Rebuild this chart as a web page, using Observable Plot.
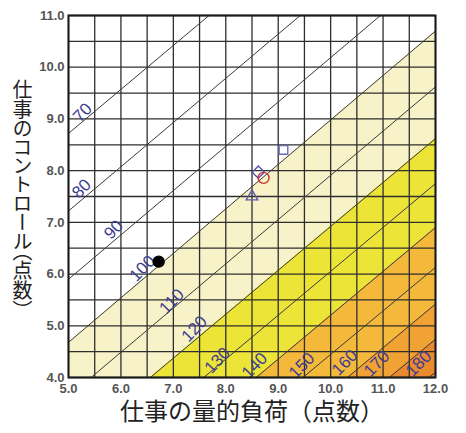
<!DOCTYPE html>
<html><head><meta charset="utf-8">
<script src="https://cdn.jsdelivr.net/npm/d3@7"></script>
<script src="https://cdn.jsdelivr.net/npm/@observablehq/plot@0.6"></script>
<style>
html,body{margin:0;padding:0;background:#fff;}
#chart svg{display:block;}
</style>
</head><body><div id="chart"></div>
<script>
// contour levels (health risk) and their line end points
const levels = [70, 80, 90, 100, 110, 120, 130, 140, 150, 160, 170, 180];
const lineX1 = [5, 5, 5, 5, 5.43, 6.56, 7.58, 8.58, 9.47, 10.32, 11.12, 11.87];
const lineY1 = [8.72, 7.22, 5.9, 4.68, 4, 4, 4, 4, 4, 4, 4, 4];
const lineX2 = [7.68, 9.42, 10.95, 12, 12, 12, 12, 12, 12, 12, 12, 12];
const lineY2 = [11, 11, 11, 10.7, 9.62, 8.62, 7.75, 6.9, 6.13, 5.42, 4.74, 4.1];
// label positions of the contour values
const labelX = [5.27, 5.25, 5.86, 6.41, 6.97, 7.40, 7.84, 8.55, 9.45, 10.27, 10.88, 11.68];
const labelY = [9.12, 7.65, 6.86, 6.11, 5.47, 4.94, 4.33, 4.23, 4.23, 4.29, 4.27, 4.27];
// coloured bands: region beyond each of these levels
const bandLevels = [100, 120, 140, 160, 170];
const bandColors = ["#f7f2c8", "#ece437", "#f4b83a", "#f1a234", "#ea8a30"];
// ticks and grid
const xTicks = [5, 6, 7, 8, 9, 10, 11, 12];
const yTicks = [4, 5, 6, 7, 8, 9, 10, 11];
const gridX = [5, 5.5, 6, 6.5, 7, 7.5, 8, 8.5, 9, 9.5, 10, 10.5, 11, 11.5, 12];
const gridY = [4, 4.5, 5, 5.5, 6, 6.5, 7, 7.5, 8, 8.5, 9, 9.5, 10, 10.5, 11];
// plotted groups
const groupX = [6.72, 8.5, 9.1, 8.62, 8.72];
const groupY = [6.24, 7.5, 8.4, 7.97, 7.86];
const groupSymbol = ["circle", "triangle2", "square2", "diamond2", "circle"];
const groupStroke = ["#000000", "#5b5bb0", "#6a6ab8", "#5555aa", "#d0352f"];
const groupFill = ["#000000", "none", "none", "none", "none"];
const xTitle = "仕事の量的負荷（点数）";
const yTitle = "仕事のコントロール（点数）";

const lines = levels.map((v, i) => ({v, x1: lineX1[i], y1: lineY1[i], x2: lineX2[i], y2: lineY2[i]}));
const labels = levels.map((v, i) => ({v, x: labelX[i], y: labelY[i]}));
const groups = groupX.map((x, i) => ({x, y: groupY[i], s: groupSymbol[i], st: groupStroke[i], f: groupFill[i]}));
const yMin = yTicks[0];
const bandMarks = bandLevels.map((lv, i) => {
  const l = lines.find(d => d.v === lv);
  const pts = [{x: l.x1, y: l.y1, b: yMin}, {x: l.x2, y: l.y2, b: yMin}];
  return Plot.areaY(pts, {x: "x", y1: "b", y2: "y", fill: bandColors[i], curve: "linear"});
});

const tickFont = {fontSize: 13, fontWeight: "bold", fill: "#555", fontFamily: "Liberation Sans, Arial, sans-serif"};

const svg = Plot.plot({
  width: 466,
  height: 433,
  marginLeft: 68,
  marginRight: 31,
  marginTop: 15,
  marginBottom: 56,
  style: {fontFamily: "Liberation Sans, Arial, sans-serif", fontSize: "13px", background: "#fff"},
  x: {domain: [5, 12], nice: false},
  y: {domain: [4, 11], nice: false},
  marks: [
    ...bandMarks,
    Plot.ruleX(gridX, {stroke: "#2e2e2e", strokeWidth: 1.3}),
    Plot.ruleY(gridY, {stroke: "#2e2e2e", strokeWidth: 1.3}),
    Plot.link(lines, {x1: "x1", y1: "y1", x2: "x2", y2: "y2", stroke: "#3a3a3a", strokeWidth: 1}),
    Plot.text(labels, {x: "x", y: "y", text: d => String(d.v), rotate: -46, fontSize: 17, fill: "#3d3d92", fontFamily: "Liberation Sans, Arial, sans-serif"}),
    Plot.dot(groups, {x: "x", y: "y", symbol: "s", stroke: "st", fill: "f", r: 5.5, strokeWidth: 1.4}),
    Plot.frame({stroke: "#1a1a1a", strokeWidth: 2}),
    Plot.axisX(xTicks, {tickSize: 0, tickPadding: 6, tickFormat: d => d.toFixed(1), label: null, ...tickFont}),
    Plot.axisY(yTicks, {tickSize: 0, tickPadding: 4, tickFormat: d => d.toFixed(1), label: null, ...tickFont}),
    Plot.text([xTitle], {frameAnchor: "bottom", dy: 42, fontSize: 24, fill: "#222", fontFamily: "Noto Sans CJK JP"}),
    Plot.text([yTitle], {frameAnchor: "left", textAnchor: "middle", dx: -46, dy: -8, fontSize: 20, fill: "#222", fontFamily: "Noto Sans CJK JP"})
  ],
  symbol: {type: "identity"},
  color: {type: "identity"}
});

d3.select(svg).selectAll("text").filter(function () { return this.textContent === yTitle; })
  .style("writing-mode", "vertical-rl")
  .style("font-feature-settings", '"vpal"')
  .attr("dy", null);

document.getElementById("chart").appendChild(svg);
</script>
</body></html>
